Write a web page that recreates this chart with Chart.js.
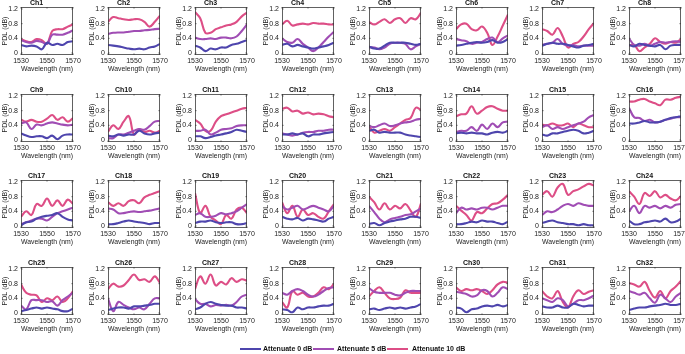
<!DOCTYPE html>
<html><head><meta charset="utf-8">
<script src="https://cdn.jsdelivr.net/npm/chart.js@4.4.1/dist/chart.umd.min.js"></script>
<style>
body{margin:0;width:685px;height:354px;background:#fff;position:relative;overflow:hidden;font-family:"Liberation Sans",Arial,sans-serif}
canvas{position:absolute}
.lg-line{position:absolute;height:2px;width:21px}
.lg-text{position:absolute;font-size:7px;font-weight:bold;color:#111;line-height:8px;white-space:nowrap}
</style>
</head><body>
<script>
const wavelengths=[1530,1534,1538,1542,1546,1550,1554,1558,1562,1566,1570];
const channels=['Ch1','Ch2','Ch3','Ch4','Ch5','Ch6','Ch7','Ch8','Ch9','Ch10','Ch11','Ch12','Ch13','Ch14','Ch15','Ch16','Ch17','Ch18','Ch19','Ch20','Ch21','Ch22','Ch23','Ch24','Ch25','Ch26','Ch27','Ch28','Ch29','Ch30','Ch31','Ch32'];
const xTicks=[1530,1550,1570];
const yTicks=[0,0.4,0.8,1.2];
const seriesNames=['Attenuate 0 dB','Attenuate 5 dB','Attenuate 10 dB'];
const seriesColors=['#4e45ad','#a04db4','#dd4e86'];

const att0=[
[0.22,0.18,0.20,0.18,0.10,0.28,0.22,0.25,0.22,0.30,0.32],
[0.22,0.20,0.18,0.15,0.12,0.10,0.12,0.10,0.15,0.18,0.25],
[0.20,0.15,0.05,0.12,0.10,0.15,0.15,0.22,0.25,0.30,0.35],
[0.22,0.25,0.18,0.22,0.18,0.15,0.12,0.15,0.18,0.22,0.28],
[0.18,0.12,0.12,0.20,0.28,0.28,0.28,0.28,0.25,0.22,0.25],
[0.20,0.22,0.25,0.28,0.30,0.28,0.30,0.35,0.28,0.30,0.38],
[0.20,0.25,0.28,0.25,0.25,0.22,0.18,0.15,0.20,0.22,0.25],
[0.22,0.18,0.25,0.22,0.20,0.18,0.22,0.10,0.20,0.22,0.22],
[0.18,0.12,0.08,0.10,0.10,0.05,0.12,0.02,0.12,0.15,0.15],
[0.12,0.10,0.15,0.12,0.15,0.15,0.25,0.18,0.15,0.18,0.20],
[0.10,0.10,0.05,0.08,0.12,0.15,0.18,0.22,0.28,0.25,0.22],
[0.15,0.15,0.18,0.15,0.18,0.10,0.15,0.15,0.18,0.20,0.22],
[0.25,0.28,0.20,0.22,0.20,0.20,0.20,0.15,0.12,0.10,0.08],
[0.18,0.20,0.18,0.20,0.18,0.18,0.15,0.20,0.22,0.20,0.25],
[0.15,0.12,0.18,0.18,0.22,0.25,0.28,0.25,0.18,0.20,0.25],
[0.45,0.45,0.48,0.52,0.48,0.48,0.50,0.55,0.60,0.62,0.65],
[0.02,0.10,0.12,0.20,0.25,0.28,0.30,0.35,0.25,0.18,0.15],
[0.05,0.05,0.08,0.12,0.15,0.12,0.10,0.08,0.05,0.08,0.08],
[0.08,0.12,0.12,0.15,0.10,0.08,0.10,0.10,0.05,0.05,0.08],
[0.25,0.20,0.18,0.22,0.15,0.20,0.18,0.15,0.12,0.20,0.25],
[0.05,0.08,0.02,0.08,0.12,0.15,0.18,0.20,0.25,0.25,0.22],
[0.05,0.05,0.08,0.12,0.10,0.15,0.12,0.12,0.08,0.05,0.12],
[0.08,0.12,0.15,0.10,0.08,0.05,0.05,0.02,0.05,0.02,0.02],
[0.15,0.05,0.05,0.10,0.12,0.15,0.12,0.20,0.10,0.12,0.20],
[0.05,0.08,0.12,0.15,0.12,0.15,0.12,0.10,0.05,0.05,0.12],
[0.08,0.12,0.15,0.15,0.12,0.18,0.18,0.20,0.22,0.25,0.25],
[0.10,0.15,0.25,0.30,0.25,0.22,0.20,0.20,0.15,0.15,0.12],
[0.10,0.08,0.02,0.15,0.10,0.15,0.15,0.18,0.20,0.20,0.25],
[0.10,0.12,0.08,0.12,0.15,0.12,0.15,0.12,0.15,0.18,0.25],
[0.15,0.12,0.02,0.10,0.12,0.18,0.20,0.18,0.22,0.18,0.22],
[0.18,0.15,0.15,0.20,0.15,0.15,0.25,0.22,0.18,0.20,0.20],
[0.08,0.12,0.15,0.15,0.18,0.20,0.22,0.25,0.22,0.22,0.25]
];
const att5=[
[0.35,0.30,0.28,0.33,0.30,0.25,0.50,0.50,0.50,0.55,0.62],
[0.52,0.55,0.56,0.56,0.58,0.60,0.60,0.62,0.63,0.65,0.66],
[0.42,0.38,0.38,0.40,0.38,0.42,0.42,0.40,0.45,0.60,0.78],
[0.40,0.30,0.28,0.38,0.25,0.15,0.05,0.15,0.30,0.45,0.58],
[0.15,0.15,0.10,0.15,0.25,0.28,0.28,0.25,0.10,0.18,0.25],
[0.38,0.35,0.32,0.25,0.28,0.30,0.38,0.42,0.30,0.40,0.48],
[0.22,0.25,0.28,0.38,0.25,0.20,0.22,0.18,0.20,0.20,0.20],
[0.40,0.22,0.20,0.25,0.20,0.25,0.30,0.28,0.30,0.32,0.30],
[0.45,0.48,0.30,0.42,0.40,0.45,0.48,0.45,0.42,0.40,0.42],
[0.05,0.05,0.15,0.15,0.20,0.25,0.30,0.28,0.38,0.50,0.52],
[0.25,0.25,0.28,0.15,0.20,0.28,0.30,0.32,0.38,0.40,0.40],
[0.18,0.15,0.12,0.15,0.20,0.22,0.22,0.25,0.25,0.28,0.28],
[0.38,0.35,0.40,0.45,0.38,0.40,0.45,0.48,0.50,0.55,0.58],
[0.22,0.25,0.25,0.35,0.25,0.42,0.30,0.45,0.35,0.48,0.50],
[0.35,0.40,0.30,0.35,0.30,0.35,0.40,0.45,0.50,0.62,0.68],
[0.88,0.62,0.60,0.52,0.55,0.48,0.50,0.55,0.58,0.62,0.62],
[0.05,0.10,0.15,0.20,0.20,0.15,0.25,0.35,0.40,0.45,0.50],
[0.48,0.45,0.35,0.35,0.38,0.40,0.38,0.40,0.42,0.45,0.48],
[0.30,0.35,0.25,0.25,0.28,0.35,0.32,0.35,0.40,0.50,0.60],
[0.55,0.45,0.50,0.55,0.45,0.50,0.55,0.50,0.45,0.40,0.55],
[0.55,0.38,0.20,0.10,0.18,0.22,0.25,0.30,0.32,0.40,0.48],
[0.35,0.50,0.45,0.48,0.45,0.50,0.50,0.45,0.50,0.55,0.55],
[0.30,0.40,0.38,0.45,0.55,0.60,0.55,0.62,0.58,0.55,0.55],
[0.40,0.55,0.35,0.55,0.50,0.55,0.48,0.55,0.50,0.58,0.60],
[0.20,0.10,0.35,0.35,0.35,0.30,0.32,0.20,0.35,0.45,0.55],
[0.40,0.05,0.30,0.22,0.15,0.10,0.15,0.10,0.25,0.40,0.40],
[0.38,0.25,0.25,0.18,0.22,0.20,0.22,0.20,0.30,0.45,0.50],
[0.55,0.50,0.60,0.65,0.60,0.50,0.45,0.50,0.60,0.68,0.70],
[0.68,0.58,0.55,0.55,0.55,0.50,0.48,0.55,0.60,0.60,0.60],
[0.58,0.55,0.52,0.45,0.48,0.62,0.60,0.45,0.55,0.70,0.65],
[0.40,0.35,0.30,0.40,0.35,0.18,0.25,0.35,0.35,0.40,0.48],
[0.60,0.55,0.50,0.55,0.40,0.28,0.50,0.40,0.30,0.45,0.55]
];
const att10=[
[0.38,0.32,0.30,0.38,0.35,0.25,0.60,0.65,0.65,0.72,0.78],
[0.85,0.98,0.95,0.92,0.90,0.92,0.92,0.85,0.72,0.85,1.02],
[1.12,0.95,0.55,0.55,0.65,0.70,0.75,0.78,0.85,1.00,1.10],
[0.78,0.88,0.75,0.78,0.80,0.78,0.82,0.80,0.80,0.78,0.78],
[0.85,0.78,0.85,0.92,0.82,0.92,0.95,0.82,0.95,0.92,1.10],
[0.65,0.78,0.80,0.65,0.62,0.72,0.55,0.22,0.45,0.75,1.05],
[0.65,0.60,0.50,0.68,0.45,0.15,0.25,0.30,0.45,0.65,0.82],
[0.20,0.22,0.05,0.15,0.25,0.40,0.30,0.25,0.30,0.28,0.38],
[0.55,0.50,0.55,0.50,0.50,0.58,0.68,0.55,0.62,0.50,0.60],
[0.22,0.40,0.30,0.50,0.65,0.15,0.30,0.22,0.25,0.20,0.25],
[0.55,0.45,0.25,0.25,0.50,0.65,0.70,0.75,0.80,0.85,0.88],
[0.85,0.88,0.78,0.80,0.72,0.75,0.70,0.72,0.70,0.65,0.62],
[0.38,0.20,0.25,0.30,0.25,0.35,0.45,0.55,0.60,0.88,0.82],
[0.65,0.70,0.72,0.92,0.72,0.80,0.90,0.92,0.85,0.80,0.80],
[0.42,0.40,0.45,0.40,0.40,0.45,0.35,0.45,0.40,0.35,0.35],
[1.05,1.05,1.10,1.12,1.05,1.00,0.95,1.10,1.10,1.15,1.18],
[0.25,0.40,0.30,0.60,0.55,0.75,0.55,0.70,0.55,0.72,0.60],
[0.65,0.55,0.62,0.55,0.68,0.70,0.62,0.78,0.85,0.90,0.95],
[0.90,0.35,0.55,0.25,0.15,0.05,0.30,0.20,0.45,0.50,0.35],
[0.65,0.35,0.55,0.25,0.45,0.30,0.35,0.25,0.20,0.40,0.60],
[0.80,0.65,0.45,0.62,0.45,0.55,0.48,0.60,0.42,0.25,0.62],
[0.55,0.42,0.30,0.15,0.38,0.35,0.48,0.60,0.62,0.72,0.85],
[0.85,0.95,0.80,1.05,1.15,0.85,0.95,1.00,1.08,1.15,1.10],
[0.95,0.80,0.60,0.90,0.82,0.95,0.78,0.85,0.75,0.70,0.82],
[0.78,0.55,0.50,0.48,0.30,0.40,0.35,0.45,0.30,0.40,0.60],
[0.65,0.80,0.72,0.75,0.90,1.05,0.90,0.92,0.85,1.00,0.82],
[0.65,1.00,0.80,1.05,0.75,0.85,0.78,0.95,0.85,0.92,0.88],
[0.30,0.15,0.60,0.50,0.55,0.45,0.45,0.55,0.70,0.65,0.80],
[0.45,0.60,0.70,0.55,0.40,0.38,0.42,0.62,0.55,0.55,0.55],
[0.70,0.60,0.65,0.62,0.65,0.60,0.52,0.62,0.78,0.85,0.82],
[0.60,0.45,0.40,0.60,0.30,0.15,0.45,0.62,0.52,0.58,0.62],
[0.82,0.78,0.72,0.85,0.60,0.42,0.60,0.40,0.60,0.72,0.88]
];
const seriesData=[att0,att5,att10];

const FONT='"Liberation Sans", Arial, sans-serif';
const boxPlugin={id:'box',afterDatasetsDraw(c){const a=c.chartArea,ctx=c.ctx;ctx.save();ctx.strokeStyle='#3a3a3a';ctx.lineWidth=0.8;ctx.strokeRect(a.left+0.4,a.top+0.4,a.right-a.left-0.8,a.bottom-a.top-0.8);
ctx.beginPath();
c.scales.x.ticks.forEach(t=>{const px=c.scales.x.getPixelForValue(t.value);ctx.moveTo(px,a.bottom);ctx.lineTo(px,a.bottom-1.5);ctx.moveTo(px,a.top);ctx.lineTo(px,a.top+1.5);});
c.scales.y.ticks.forEach(t=>{const py=c.scales.y.getPixelForValue(t.value);ctx.moveTo(a.left,py);ctx.lineTo(a.left+1.5,py);ctx.moveTo(a.right,py);ctx.lineTo(a.right-1.5,py);});
ctx.stroke();ctx.restore();}};

const CW=88,CH=80,COLSTEP=86.9,ROWSTEP=86.5,X0=0,Y0=0;
channels.forEach((name,i)=>{
  const col=i%8,row=Math.floor(i/8);
  const cv=document.createElement('canvas');
  cv.width=CW;cv.height=CH;
  cv.style.left=Math.round(X0+col*COLSTEP)+'px';
  cv.style.top=Math.round(Y0+row*ROWSTEP)+'px';
  cv.style.width=CW+'px';cv.style.height=CH+'px';
  document.body.appendChild(cv);
  new Chart(cv,{
    type:'line',
    data:{datasets:seriesData.map((s,k)=>({
      label:seriesNames[k],
      data:wavelengths.map((w,j)=>({x:w,y:s[i][j]})),
      borderColor:seriesColors[k],borderWidth:2.1,pointRadius:0,tension:0.4,fill:false
    }))},
    options:{
      responsive:false,animation:false,devicePixelRatio:1,
      layout:{padding:{left:0,right:15,top:0,bottom:0}},
      plugins:{legend:{display:false},tooltip:{enabled:false},
        title:{display:true,text:name,color:'#111',font:{family:FONT,size:7,weight:'bold',lineHeight:1},padding:{top:0,bottom:0}}},
      scales:{
        x:{type:'linear',min:1530,max:1570,
          afterBuildTicks:s=>{s.ticks=xTicks.map(v=>({value:v}));},
          afterFit:s=>{s.height=25;s.paddingLeft=0;s.paddingRight=0;},
          grid:{display:false,drawTicks:false},border:{display:false},
          ticks:{font:{family:FONT,size:7},color:'#222',padding:2,maxRotation:0,autoSkip:false,callback:v=>String(v)},
          title:{display:true,text:'Wavelength (nm)',color:'#222',font:{family:FONT,size:7},padding:{top:0,bottom:7}}},
        y:{min:-0.055,max:1.255,
          afterBuildTicks:s=>{s.ticks=yTicks.map(v=>({value:v}));},
          afterFit:s=>{s.width=21;s.paddingTop=0;s.paddingBottom=0;},
          grid:{display:false,drawTicks:false},border:{display:false},
          ticks:{font:{family:FONT,size:7},color:'#222',padding:3,callback:v=>String(v)},
          title:{display:true,text:'PDL (dB)',color:'#222',font:{family:FONT,size:7},padding:{top:1,bottom:0}}}
      }
    },
    plugins:[boxPlugin]
  });
});

// legend
const lgPos=[[240,263],[313,337],[387,412]];
seriesNames.forEach((n,k)=>{
  const l=document.createElement('div');l.className='lg-line';
  l.style.left=lgPos[k][0]+'px';l.style.top='348px';l.style.background=seriesColors[k];
  document.body.appendChild(l);
  const t=document.createElement('div');t.className='lg-text';
  t.style.left=lgPos[k][1]+'px';t.style.top='345px';t.textContent=n;
  document.body.appendChild(t);
});
</script>
</body></html>
